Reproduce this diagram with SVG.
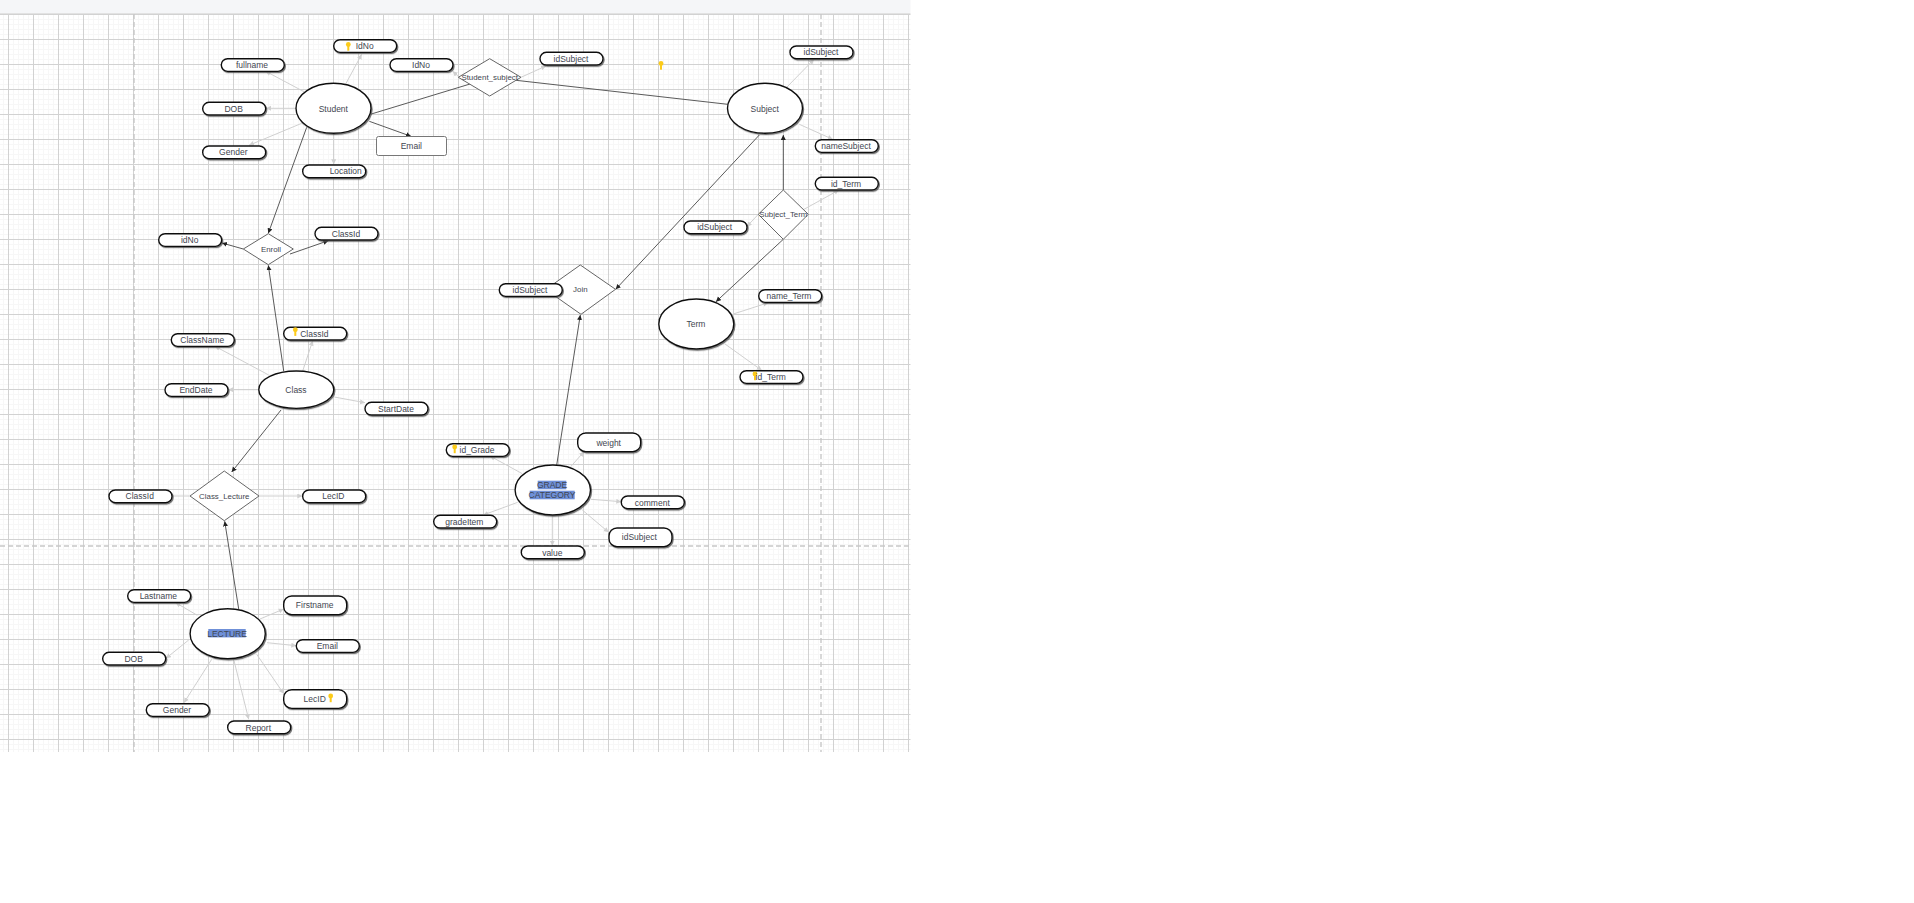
<svg xmlns="http://www.w3.org/2000/svg" width="1914" height="903" viewBox="0 0 1914 903">
<style>
text{font-family:"Liberation Sans",Arial,sans-serif;font-size:8.5px;fill:#3f4650;text-anchor:middle}
.rl{font-size:7.9px}
.pill{fill:#fff;stroke:#111;stroke-width:1.4;filter:url(#sh)}
.ent{fill:#fff;stroke:#111;stroke-width:1.4;filter:url(#sh)}
.rel{fill:#fff;stroke:#666;stroke-width:1}
.box{fill:#fff;stroke:#777;stroke-width:1}
.lt{stroke:#d0d0d0;stroke-width:1;fill:none;marker-end:url(#al)}
.dk{stroke:#5a5a5a;stroke-width:1;fill:none;marker-end:url(#ad)}
.pl{stroke:#5a5a5a;stroke-width:1;fill:none}
.dash{stroke:#c8c8c8;stroke-width:1.4;stroke-dasharray:5 3;fill:none}
.hl{fill:#6f90d8}
</style>
<defs>
<pattern id="grid" x="8" y="14" width="25" height="25" patternUnits="userSpaceOnUse">
<path d="M5.5 0V25M10.5 0V25M15.5 0V25M20.5 0V25M0 5.5H25M0 10.5H25M0 15.5H25M0 20.5H25" stroke="#f7f7f7" stroke-width="1" fill="none"/>
<path d="M.5 0V25M0 .5H25" stroke="#d2d2d2" stroke-width="1" fill="none"/>
</pattern>
<filter id="sh" x="-10%" y="-20%" width="125%" height="150%"><feDropShadow dx="1" dy="1.2" stdDeviation=".4" flood-color="#555" flood-opacity=".8"/></filter>
<marker id="al" markerWidth="6" markerHeight="6" refX="5" refY="2.5" orient="auto" markerUnits="userSpaceOnUse"><path d="M0 0L5 2.5L0 5z" fill="#d0d0d0"/></marker>
<marker id="ad" markerWidth="6" markerHeight="6" refX="5" refY="2.5" orient="auto" markerUnits="userSpaceOnUse"><path d="M0 0L5 2.5L0 5z" fill="#222"/></marker>
<g id="key"><circle cx="0" cy="-2" r="2.4" fill="#fccb1a"/><rect x="-1" y="-2" width="2" height="6.2" fill="#fccb1a"/></g>
<rect id="p" x="0" y="0" width="63" height="12.7" rx="6.3" class="pill"/>
<rect id="pt" x="0" y="0" width="63" height="18.7" rx="8" class="pill"/>
</defs>

<rect width="1914" height="903" fill="#fff"/>
<rect x="0" y="14" width="910.5" height="738" fill="url(#grid)"/>
<rect x="0" y="0" width="910.5" height="13" fill="#f5f6f8"/>
<rect x="0" y="13" width="910.5" height="1" fill="#e2e2e2"/>
<path class="dash" d="M134 14V752M821 14V752M0 546H910"/>

<g id="connectors">
<path class="lt" d="M345.7 84L361.7 54.3"/>
<path class="lt" d="M304 91.7L265.7 71.3"/>
<path class="lt" d="M296.3 108.3H266"/>
<path class="lt" d="M301.7 123.3L249 145.3"/>
<path class="lt" d="M333.7 134.3V164.3"/>
<path class="lt" d="M459.3 77.3L452.7 71.3"/>
<path class="lt" d="M521 77.3L546 66"/>
<path class="lt" d="M786.7 87.3L814 59.3"/>
<path class="lt" d="M799.3 124.3L832.7 139.3"/>
<path class="lt" d="M804 209.3L839 190"/>
<path class="lt" d="M758.3 214.3L746.7 226.7"/>
<path class="lt" d="M733.3 314L768.3 302.7"/>
<path class="lt" d="M725 344L761.7 370.3"/>
<path class="lt" d="M268.7 375L215 346.3"/>
<path class="lt" d="M302.7 371L312.7 340.7"/>
<path class="lt" d="M258.7 389.7H228.3"/>
<path class="lt" d="M334.3 397L365 402.7"/>
<path class="lt" d="M190 496H165.7"/>
<path class="lt" d="M259 496H302.3"/>
<path class="lt" d="M522.3 473.7L490 456"/>
<path class="lt" d="M570.7 466.7L584 451.7"/>
<path class="lt" d="M591 499.3L621.3 501.7"/>
<path class="lt" d="M582.3 510L608.7 532.3"/>
<path class="lt" d="M517.7 502.3L483.3 515"/>
<path class="lt" d="M552.3 515.3V545.7"/>
<path class="lt" d="M197.3 615.3L175.7 602.7"/>
<path class="lt" d="M260 619L283.7 609"/>
<path class="lt" d="M267 642.7L296.3 645.7"/>
<path class="lt" d="M188.7 640L166 658.3"/>
<path class="lt" d="M256.7 654.3L283.7 693.7"/>
<path class="lt" d="M211.7 659.3L184 702.7"/>
<path class="lt" d="M234 660.7L248.7 719.3"/>
<path class="pl" d="M371.3 114L470 84"/>
<path class="pl" d="M516 80.3L727.7 104.3"/>
<path class="dk" d="M369.3 121.3L411 136.3"/>
<path class="dk" d="M306.7 127.3L268.3 233.3"/>
<path class="dk" d="M243.3 249L222 243"/>
<path class="dk" d="M290 254L328.3 240.7"/>
<path class="dk" d="M283.7 371L268.3 265.3"/>
<path class="dk" d="M281 410L231.7 472"/>
<path class="dk" d="M238.7 609L224.7 521.3"/>
<path class="dk" d="M556.7 465L580.3 315"/>
<path class="dk" d="M759.3 135L615.7 289.3"/>
<path class="dk" d="M783.3 190V135"/>
<path class="dk" d="M783.3 239.3L716 301.7"/>
</g>

<g id="n-student"><ellipse class="ent" cx="333.5" cy="108.3" rx="37.5" ry="25"/><text x="333.3" y="112">Student</text></g>
<g id="n-subject"><ellipse class="ent" cx="765" cy="108.3" rx="37.5" ry="25"/><text x="764.7" y="112">Subject</text></g>
<g id="n-term"><ellipse class="ent" cx="696.3" cy="324" rx="37.5" ry="25"/><text x="696" y="327">Term</text></g>
<g id="n-class"><ellipse class="ent" cx="296.3" cy="389.7" rx="37.5" ry="18.7"/><text x="296" y="393">Class</text></g>
<g id="n-grade"><ellipse class="ent" cx="552.8" cy="490" rx="37.7" ry="25"/><rect class="hl" x="537.7" y="480.7" width="28.6" height="8.6"/><rect class="hl" x="529.7" y="490.7" width="45" height="8.6"/><text x="552" y="488">GRADE</text><text x="552" y="498">CATEGORY</text></g>
<g id="n-lecture"><ellipse class="ent" cx="227.7" cy="633.7" rx="37.6" ry="25"/><rect class="hl" x="208.3" y="629" width="37.4" height="8.4"/><text x="227" y="636.5">LECTURE</text></g>

<g id="r-enroll"><path class="rel" d="M243.3 249L268.3 233.7L293.3 249L268.3 264.7z"/><text class="rl" x="271" y="252">Enroll</text></g>
<g id="r-student-subject"><path class="rel" d="M458.3 77.3L489.7 58.7L521 77.3L489.7 96z"/><text class="rl" x="489.7" y="80">Student_subject</text></g>
<g id="r-subject-term"><path class="rel" d="M758.3 214.3L783.3 190L808.3 214.3L783.3 239.3z"/><text class="rl" x="783.3" y="217">Subject_Term</text></g>
<g id="r-join"><path class="rel" d="M545.7 289.5L580.3 265L615.5 289.3L581 314.3z"/><text class="rl" x="580.3" y="292">Join</text></g>
<g id="r-class-lecture"><path class="rel" d="M190 496L224.3 471L259 496L224.3 520.7z"/><text class="rl" x="224.3" y="499">Class_Lecture</text></g>

<g id="a-idno-key"><use href="#p" x="333.7" y="39.7"/><use href="#key" x="348.3" y="46.5"/><text x="364.7" y="49">IdNo</text></g>
<g id="a-fullname"><use href="#p" x="221.3" y="58.7"/><text x="252" y="68">fullname</text></g>
<g id="a-idno2"><use href="#p" x="390" y="58.7"/><text x="421" y="68">IdNo</text></g>
<g id="a-dob"><use href="#p" x="202.7" y="102.3"/><text x="233.7" y="112">DOB</text></g>
<g id="a-gender"><use href="#p" x="202.7" y="146"/><text x="233.3" y="155">Gender</text></g>
<g id="a-location"><use href="#p" x="302.7" y="165"/><text x="345.7" y="174">Location</text></g>
<g id="a-email"><rect class="box" x="376.5" y="136.5" width="70" height="19" rx="2"/><text x="411.3" y="149">Email</text></g>
<g id="a-idno3"><use href="#p" x="158.7" y="233.7"/><text x="189.7" y="243">idNo</text></g>
<g id="a-classid"><use href="#p" x="315" y="227.3"/><text x="346" y="237">ClassId</text></g>
<g id="a-idsubject1"><use href="#p" x="540" y="52.3"/><text x="571" y="62">idSubject</text></g>
<g id="a-idsubject2"><use href="#p" x="790" y="46"/><text x="821" y="55">idSubject</text></g>
<g id="a-namesubject"><use href="#p" x="815.3" y="139.7"/><text x="846" y="149">nameSubject</text></g>
<g id="a-idterm1"><use href="#p" x="815.3" y="177.3"/><text x="846" y="187">id_Term</text></g>
<g id="a-idsubject3"><use href="#p" x="684" y="221"/><text x="714.7" y="230">idSubject</text></g>
<g id="a-idsubject4"><use href="#p" x="499.3" y="283.7"/><text x="530" y="293">idSubject</text></g>
<g id="a-nameterm"><use href="#p" x="758.7" y="289.7"/><text x="789" y="299">name_Term</text></g>
<g id="a-idterm2"><use href="#p" x="740" y="370.7"/><use href="#key" x="755" y="376"/><text x="770.7" y="380">id_Term</text></g>
<g id="a-classname"><use href="#p" x="171.3" y="333.7"/><text x="202.3" y="343">ClassName</text></g>
<g id="a-classid-key"><use href="#p" x="283.7" y="327.3"/><use href="#key" x="295.3" y="331.7"/><text x="314.3" y="337">ClassId</text></g>
<g id="a-enddate"><use href="#p" x="165" y="383.7"/><text x="196" y="393">EndDate</text></g>
<g id="a-startdate"><use href="#p" x="365" y="402.3"/><text x="396" y="412">StartDate</text></g>
<g id="a-classid2"><use href="#p" x="109" y="490"/><text x="139.7" y="499">ClassId</text></g>
<g id="a-lecid"><use href="#p" x="302.7" y="490"/><text x="333.3" y="499">LecID</text></g>
<g id="a-idgrade"><use href="#p" x="446.3" y="443.7"/><use href="#key" x="454.7" y="449"/><text x="477" y="453">id_Grade</text></g>
<g id="a-weight"><use href="#pt" x="577.7" y="433"/><text x="608.7" y="445.5">weight</text></g>
<g id="a-comment"><use href="#p" x="621.3" y="496"/><text x="652.3" y="505.5">comment</text></g>
<g id="a-idsubject5"><use href="#pt" x="609" y="528"/><text x="639.3" y="540">idSubject</text></g>
<g id="a-gradeitem"><use href="#p" x="433.7" y="515.3"/><text x="464.3" y="525">gradeItem</text></g>
<g id="a-value"><use href="#p" x="521.3" y="546"/><text x="552.3" y="555.5">value</text></g>
<g id="a-lastname"><use href="#p" x="127.7" y="589.7"/><text x="158.3" y="599">Lastname</text></g>
<g id="a-firstname"><use href="#pt" x="283.7" y="596"/><text x="314.7" y="608">Firstname</text></g>
<g id="a-email2"><use href="#p" x="296.3" y="639.7"/><text x="327.3" y="649">Email</text></g>
<g id="a-dob2"><use href="#p" x="102.7" y="652.3"/><text x="133.7" y="662">DOB</text></g>
<g id="a-lecid-key"><use href="#pt" x="283.7" y="689.7"/><use href="#key" x="330.7" y="698"/><text x="314.7" y="702">LecID</text></g>
<g id="a-gender2"><use href="#p" x="146.3" y="703.7"/><text x="177" y="713">Gender</text></g>
<g id="a-report"><use href="#p" x="227.7" y="721"/><text x="258.3" y="730.5">Report</text></g>
<use id="stray-key" href="#key" x="661" y="65.5"/>
</svg>
